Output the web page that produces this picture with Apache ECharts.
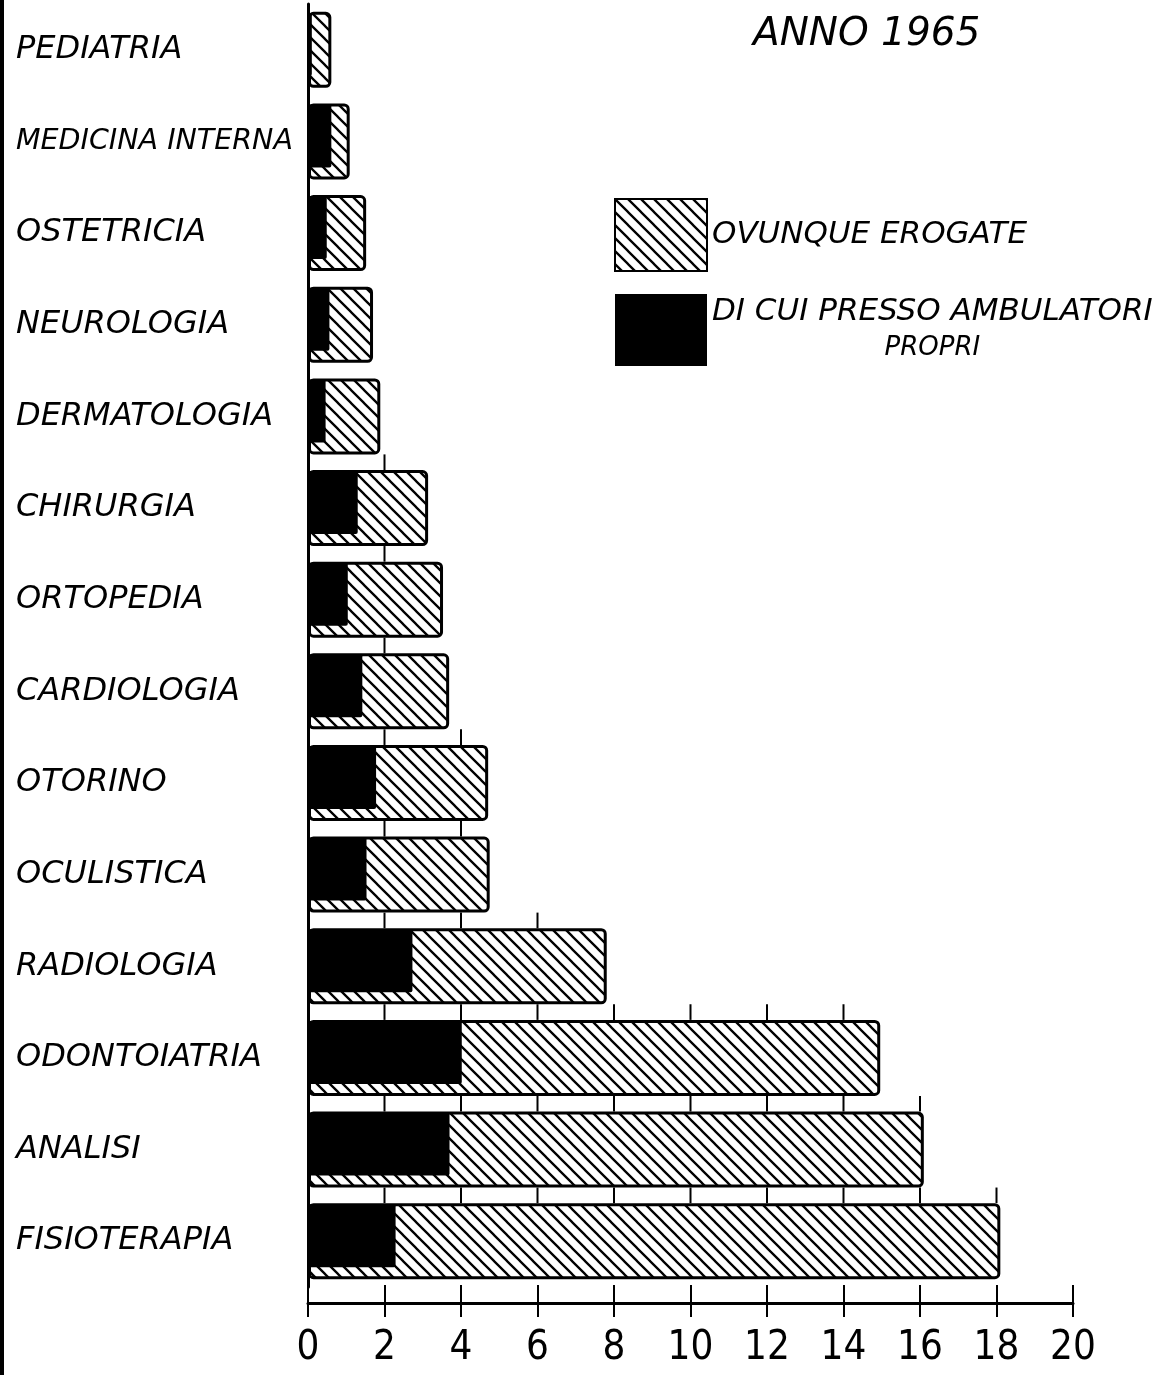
<!DOCTYPE html>
<html>
<head>
<meta charset="utf-8">
<script src="https://cdn.jsdelivr.net/npm/echarts@6/dist/echarts.min.js"></script>
<style>
html,body{margin:0;padding:0;background:#fff;}
#chart{width:1163px;height:1375px;}
</style>
</head>
<body>
<div id="chart"></div>
<script>
const categories = ['PEDIATRIA','MEDICINA INTERNA','OSTETRICIA','NEUROLOGIA','DERMATOLOGIA','CHIRURGIA','ORTOPEDIA','CARDIOLOGIA','OTORINO','OCULISTICA','RADIOLOGIA','ODONTOIATRIA','ANALISI','FISIOTERAPIA'];
const totalValues = [0.61, 1.09, 1.52, 1.70, 1.89, 3.14, 3.53, 3.69, 4.71, 4.75, 7.81, 14.96, 16.1, 18.1];
const ownValues   = [0.10, 0.61, 0.49, 0.56, 0.46, 1.30, 1.04, 1.42, 1.78, 1.53, 2.73, 4.02, 3.70, 2.29];
const xTickValues = [0, 2, 4, 6, 8, 10, 12, 14, 16, 18, 20];
const titleText = 'ANNO 1965';
const seriesNames = ['OVUNQUE EROGATE', 'DI CUI PRESSO AMBULATORI\nPROPRI'];

const FONT = "'DejaVu Sans', sans-serif";
const BAR_H = 76;

function makeHatch() {
  const s = 13;
  const c = document.createElement('canvas');
  c.width = s; c.height = s;
  const g = c.getContext('2d');
  g.fillStyle = '#fff';
  g.fillRect(0, 0, s, s);
  g.strokeStyle = '#000';
  g.lineWidth = 2.3;
  g.beginPath();
  g.moveTo(-2, -2); g.lineTo(s + 2, s + 2);
  g.moveTo(-2, s - 2); g.lineTo(2, s + 2);
  g.moveTo(s - 2, -2); g.lineTo(s + 2, 2);
  g.stroke();
  return c;
}
const hatch = { image: makeHatch(), repeat: 'repeat' };

const chart = echarts.init(document.getElementById('chart'), null, { renderer: 'canvas' });

const option = {
  backgroundColor: '#fff',
  animation: false,
  title: {
    text: titleText,
    left: 748, top: 10,
    textStyle: { fontFamily: FONT, fontSize: 39, fontStyle: 'italic', fontWeight: 'normal', color: '#000' }
  },
  legend: {
    orient: 'vertical',
    left: 614, top: 198, padding: 0,
    itemWidth: 92, itemHeight: 72, itemGap: 22,
    icon: 'rect',
    selectedMode: false,
    data: seriesNames,
    formatter: function (n) {
      if (n.indexOf('\n') >= 0) {
        const parts = n.split('\n');
        return '{a|' + parts[0] + '}\n{b|' + parts[1] + '}';
      }
      return '{a|' + n + '}';
    },
    textStyle: {
      color: '#000', fontFamily: FONT, fontStyle: 'italic', fontSize: 31,
      rich: {
        a: { fontFamily: FONT, fontStyle: 'italic', fontSize: 31, color: '#000', lineHeight: 36 },
        b: { fontFamily: FONT, fontStyle: 'italic', fontSize: 26, color: '#000', lineHeight: 36, width: 400, align: 'center' }
      }
    }
  },
  graphic: [{
    type: 'rect', left: 0, top: 0,
    shape: { width: 4, height: 1375 },
    style: { fill: '#000' }
  }],
  grid: { left: 308, right: 90, top: 4, bottom: 88, containLabel: false },
  xAxis: [{
    type: 'value', min: 0, max: 20, interval: 2,
    position: 'bottom', offset: 16,
    axisLine: { show: true, lineStyle: { color: '#000', width: 3 } },
    axisTick: { show: true, length: 14, lineStyle: { color: '#000', width: 2 } },
    axisLabel: { color: '#000', fontSize: 40, fontFamily: "'Liberation Sans Narrow', 'DejaVu Sans Condensed', sans-serif", margin: 26 },
    splitLine: { show: false }
  }, {
    type: 'value', min: 0, max: 20, interval: 2,
    position: 'bottom', offset: 16,
    axisLine: { show: false },
    axisTick: { show: true, inside: true, length: 18, lineStyle: { color: '#000', width: 2 } },
    axisLabel: { show: false },
    splitLine: { show: false }
  }],
  yAxis: {
    type: 'category', data: categories, inverse: true,
    axisLine: { show: true, lineStyle: { color: '#000', width: 3 } },
    axisTick: { show: false },
    axisLabel: {
      align: 'left', margin: 292, color: '#000',
      fontFamily: FONT, fontSize: 32, fontStyle: 'italic',
      formatter: function (v) { return v === 'MEDICINA INTERNA' ? '{s|' + v + '}' : v; },
      rich: { s: { fontFamily: FONT, fontSize: 28.5, fontStyle: 'italic', color: '#000' } }
    }
  },
  series: [{
    name: seriesNames[0],
    type: 'bar',
    data: totalValues,
    barWidth: BAR_H,
    z: 3,
    itemStyle: { color: hatch, borderColor: '#000', borderWidth: 3, borderRadius: 4 }
  }, {
    name: seriesNames[1],
    type: 'custom',
    z: 4,
    itemStyle: { color: '#000' },
    data: ownValues.map((v, i) => [v, i]),
    encode: { x: 0, y: 1 },
    renderItem: function (params, api) {
      const i = api.value(1);
      const c0 = api.coord([0, i]);
      const c1 = api.coord([api.value(0), i]);
      return {
        type: 'rect',
        shape: { x: c0[0], y: c1[1] - BAR_H / 2 + 1, width: c1[0] - c0[0], height: BAR_H - 13, r: 2 },
        style: { fill: '#000' }
      };
    }
  }, {
    name: 'gaps',
    type: 'custom',
    z: 1,
    silent: true,
    data: totalValues.map((v, i) => [v, i]).slice(1),
    encode: { x: 0, y: 1 },
    renderItem: function (params, api) {
      const i = api.value(1);
      const tot = api.value(0);
      const children = [];
      const yTop = api.coord([0, i - 1])[1] + BAR_H / 2;
      const yBot = api.coord([0, i])[1] - BAR_H / 2;
      xTickValues.forEach(function (t) {
        if (t > 0 && t < tot) {
          const x = api.coord([t, i])[0];
          children.push({ type: 'line', shape: { x1: x, y1: yTop, x2: x, y2: yBot }, style: { stroke: '#000', lineWidth: 2 } });
        }
      });
      return { type: 'group', children: children };
    }
  }]
};
chart.setOption(option);
</script>
</body>
</html>
